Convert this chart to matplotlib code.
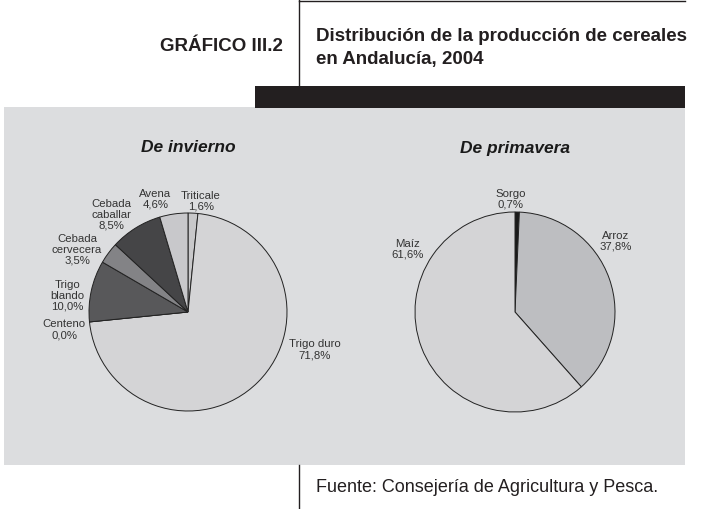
import matplotlib.pyplot as plt
from matplotlib.patches import Rectangle

# winter cereals (clockwise from 12 o'clock)
invierno_labels = ["Triticale", "Trigo duro", "Centeno", "Trigo\nblando",
                   "Cebada\ncervecera", "Cebada\ncaballar", "Avena"]
invierno_values = [1.6, 71.8, 0.0, 10.0, 3.5, 8.5, 4.6]

# spring cereals
primavera_labels = ["Sorgo", "Arroz", "Maíz"]
primavera_values = [0.7, 37.8, 61.6]

invierno_colors = ["#c8c8ca", "#d4d4d6", "#9a9a9c", "#58585a", "#838386", "#454547", "#c8c8cb"]
primavera_colors = ["#1a1a1a", "#bdbec1", "#d4d4d6"]

# label centres, in pie-radius units relative to the pie centre
invierno_label_pos = [(0.13, 1.12), (1.28, -0.38), (-1.25, -0.18), (-1.22, 0.16),
                      (-1.12, 0.63), (-0.77, 0.98), (-0.33, 1.14)]
primavera_label_pos = [(-0.04, 1.13), (1.01, 0.71), (-1.07, 0.63)]

W, H = 705, 509
PANEL = "#dcdddf"
FONT = ["Liberation Sans", "DejaVu Sans"]

fig = plt.figure(figsize=(W / 100, H / 100), dpi=100)
fig.patch.set_facecolor("white")

# overlay in pixel coordinates for frame, bars and headings
bg = fig.add_axes([0, 0, 1, 1])
bg.set_xlim(0, W)
bg.set_ylim(H, 0)
bg.axis("off")

bg.add_patch(Rectangle((4, 107), 681, 358, facecolor=PANEL, edgecolor="none"))
bg.add_patch(Rectangle((255, 86), 430, 22, facecolor="#231f20", edgecolor="none"))
bg.plot([299, 299], [0, 86], color="#231f20", lw=1)
bg.plot([299, 685], [0.8, 0.8], color="#231f20", lw=1)
bg.plot([299, 299], [465, 509], color="#231f20", lw=1)

bg.text(283, 46, "GRÁFICO III.2", family=FONT, fontweight="bold", fontsize=13.5,
        ha="right", va="center", color="#231f20")
bg.text(316, 48, "Distribución de la producción de cereales\nen Andalucía, 2004",
        family=FONT, fontweight="bold", fontsize=13.5, ha="left", va="center",
        color="#231f20", linespacing=1.45)
bg.text(316, 487, "Fuente: Consejería de Agricultura y Pesca.", family=FONT,
        fontsize=13, ha="left", va="center", color="#231f20")


def draw_pie(cx, cy, r, values, labels, colors, label_pos, title):
    ax = fig.add_axes([(cx - 1.8 * r) / W, (H - cy - 1.8 * r) / H, 3.6 * r / W, 3.6 * r / H])
    ax.pie(values, colors=colors, startangle=90, counterclock=False, radius=1,
           wedgeprops=dict(edgecolor="#222222", linewidth=0.7))
    ax.set_xlim(-1.8, 1.8)
    ax.set_ylim(-1.8, 1.8)
    ax.axis("off")
    for lab, val, (lx, ly) in zip(labels, values, label_pos):
        txt = f"{lab}\n{val:.1f}%".replace(".", ",")
        ax.text(lx, ly, txt, ha="center", va="center", fontsize=8.2,
                family=FONT, color="#333333", linespacing=1.1)
    bg.text(cx, 148, title, ha="center", va="center", fontsize=12.5,
            fontweight="bold", fontstyle="italic", family=FONT, color="#1a1a1a")


draw_pie(188, 312, 99, invierno_values, invierno_labels, invierno_colors,
         invierno_label_pos, "De invierno")
draw_pie(515, 312, 100, primavera_values, primavera_labels, primavera_colors,
         primavera_label_pos, "De primavera")

fig.savefig("out.png", dpi=100, facecolor="white")
